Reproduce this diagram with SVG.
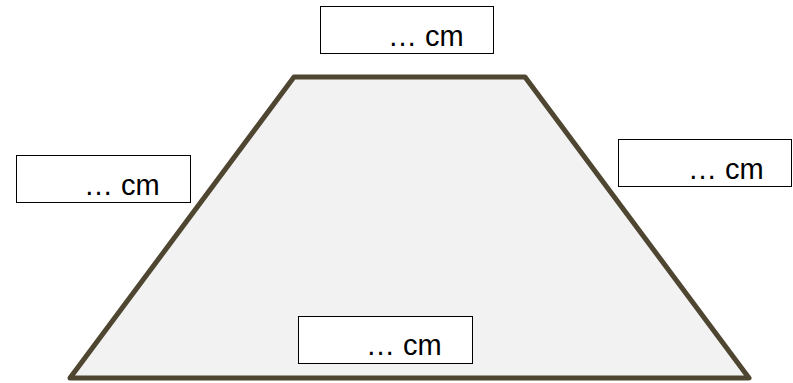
<svg xmlns="http://www.w3.org/2000/svg" width="793" height="383" viewBox="0 0 793 383">
<style>
.box{fill:#ffffff;stroke:#000000;stroke-width:1}
.lbl{font-family:"Liberation Sans",Arial,sans-serif;font-size:29px;fill:#000000}
.trap{fill:#f2f2f2;stroke:#4f4631;stroke-width:5;stroke-linejoin:round}
</style>
<rect width="793" height="383" fill="#ffffff"/>
<g id="trapezoid">
<polygon class="trap" points="294,77 525,77 749,378 70,378"/>
</g>
<g id="connectors"></g>
<g id="label-top">
<rect class="box" x="320.5" y="6.5" width="173" height="47"/>
<text class="lbl" x="388" y="46">… cm</text>
</g>
<g id="label-left">
<rect class="box" x="16.5" y="155.5" width="174" height="47"/>
<text class="lbl" x="84" y="195">… cm</text>
</g>
<g id="label-right">
<rect class="box" x="618.5" y="139.5" width="173" height="47"/>
<text class="lbl" x="688" y="179">… cm</text>
</g>
<g id="label-bottom">
<rect class="box" x="298.5" y="316.5" width="174" height="47"/>
<text class="lbl" x="366" y="355">… cm</text>
</g>
</svg>
